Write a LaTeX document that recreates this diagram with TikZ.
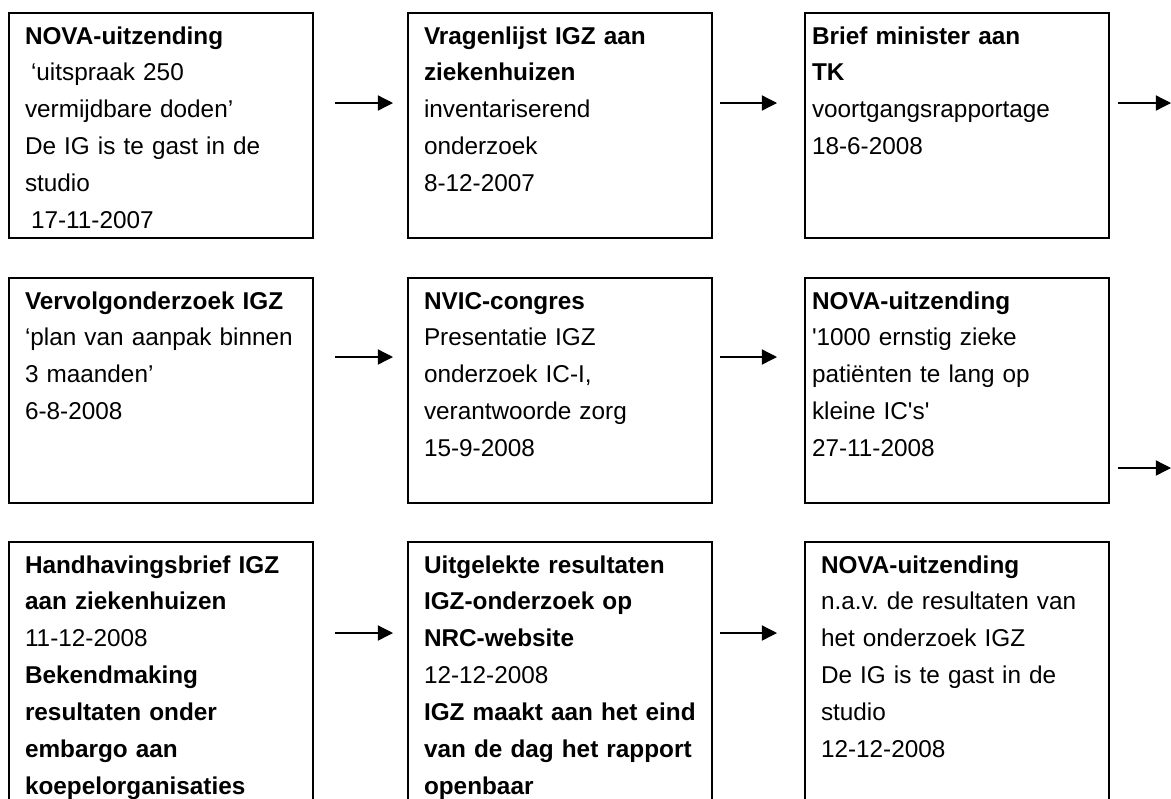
\documentclass[tikz,border=0pt]{standalone}
\usepackage{fontspec}
\setmainfont{Liberation Sans}[Ligatures=TeXOff]
\usetikzlibrary{arrows.meta,calc}
\tikzset{
  evb/.style={draw=black, line width=0.05cm, anchor=north west, outer sep=0pt,
    align=left, text width=6.8cm, inner xsep=0.4cm, inner ysep=0.3cm,
    text height=0.475cm, text depth=4.55cm,
    font=\fontsize{17.3pt}{26.2pt}\selectfont\frenchspacing},
  evtight/.style={text width=7.25cm, inner xsep=0.175cm},
  evlong/.style={text depth=7cm},
  flow/.style={-{Triangle[length=0.38cm, width=0.38cm]}, line width=0.033cm},
}
\newcommand{\evind}{\hspace*{0.15cm}}

\begin{document}
\begin{tikzpicture}[x=0.025cm, y=-0.025cm]
    \path[fill=white, use as bounding box] (0,0) rectangle (1171,798);
    % row 1
    \node[evb] (nova1) at (9,13) {\textbf{NOVA-uitzending}\\\evind‘uitspraak 250\\vermijdbare doden’\\De IG is te gast in de\\studio\\\evind17-11-2007};
    \node[evb] (vragen) at (408,13) {{\bfseries Vragenlijst IGZ aan\\ziekenhuizen}\\inventariserend\\onderzoek\\8-12-2007};
    \node[evb, evtight] (brief) at (805,13) {{\bfseries Brief minister aan\\TK}\\voortgangsrapportage\\18-6-2008};
    \coordinate (next1) at (1171,103);
    % row 2
    \node[evb] (vervolg) at (9,278) {\textbf{Vervolgonderzoek IGZ}\\‘plan van aanpak binnen\\3 maanden’\\6-8-2008};
    \node[evb] (nvic) at (408,278) {\textbf{NVIC-congres}\\Presentatie IGZ\\onderzoek IC-I,\\verantwoorde zorg\\15-9-2008};
    \node[evb, evtight] (nova2) at (805,278) {\textbf{NOVA-uitzending}\\'1000 ernstig zieke\\patiënten te lang op\\kleine IC's'\\27-11-2008};
    \coordinate (next2) at (1171,468);
    % row 3
    \node[evb, evlong] (handh) at (9,542) {{\bfseries Handhavingsbrief IGZ\\aan ziekenhuizen}\\11-12-2008\\{\bfseries Bekendmaking\\resultaten onder\\embargo aan\\koepelorganisaties}};
    \node[evb, evlong] (uitgel) at (408,542) {{\bfseries Uitgelekte resultaten\\IGZ-onderzoek op\\NRC-website}\\12-12-2008\\{\bfseries IGZ maakt aan het eind\\van de dag het rapport\\openbaar}};
    \node[evb, evlong] (nova3) at (805,542) {\textbf{NOVA-uitzending}\\n.a.v. de resultaten van\\het onderzoek IGZ\\De IG is te gast in de\\studio\\12-12-2008};
    % arrows
    \draw[flow] ($(nova1.north east)+(22,90)$) -- ($(vragen.north west)+(-15,90)$);
    \draw[flow] ($(vragen.north east)+(8,90)$) -- ($(brief.north west)+(-28,90)$);
    \draw[flow] ($(brief.north east)+(9,90)$) -- (next1);
    \draw[flow] ($(vervolg.north east)+(22,79)$) -- ($(nvic.north west)+(-15,79)$);
    \draw[flow] ($(nvic.north east)+(8,79)$) -- ($(nova2.north west)+(-28,79)$);
    \draw[flow] ($(nova2.north east)+(9,190)$) -- (next2);
    \draw[flow] ($(handh.north east)+(22,91)$) -- ($(uitgel.north west)+(-15,91)$);
    \draw[flow] ($(uitgel.north east)+(8,91)$) -- ($(nova3.north west)+(-28,91)$);
\end{tikzpicture}
\end{document}
